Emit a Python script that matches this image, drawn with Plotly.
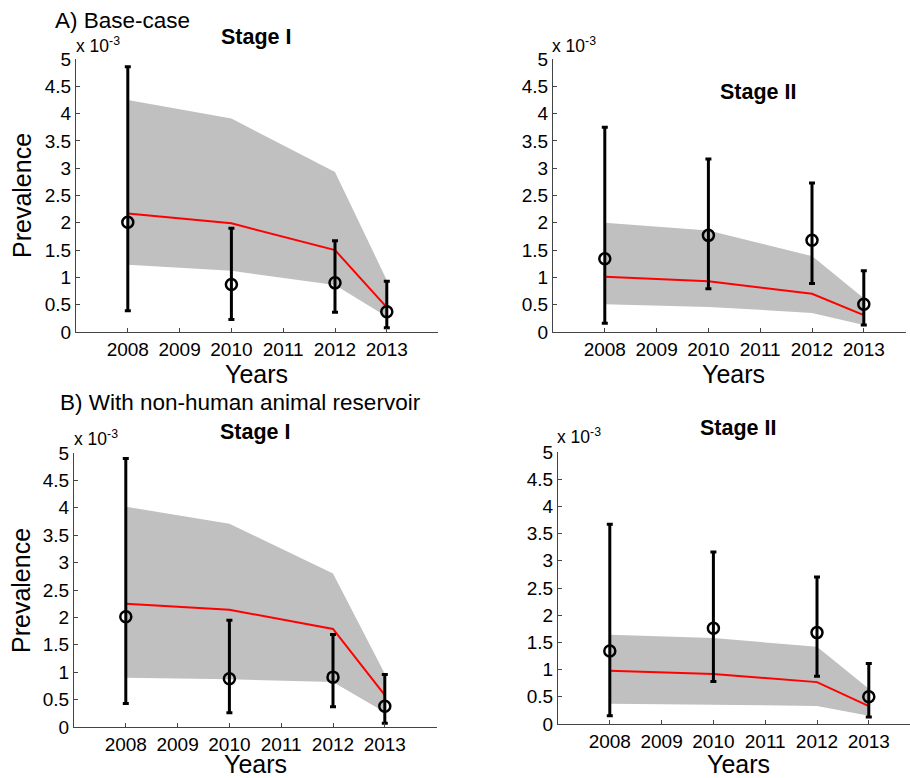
import plotly.graph_objects as go

# ---- data (prevalence in units of 1e-3) ----
years = [2008, 2010, 2012, 2013]
x_ticks = [2008, 2009, 2010, 2011, 2012, 2013]
x_ticktext = ["2008", "2009", "2010", "2011", "2012", "2013"]
y_ticks = [0, 0.5, 1, 1.5, 2, 2.5, 3, 3.5, 4, 4.5, 5]
y_ticktext = ["0", "0.5", "1", "1.5", "2", "2.5", "3", "3.5", "4", "4.5", "5"]

# A) Base-case, Stage I
a1_obs = [2.01, 0.87, 0.90, 0.37]
a1_obs_hi = [4.86, 1.90, 1.67, 0.93]
a1_obs_lo = [0.39, 0.23, 0.36, 0.08]
a1_model = [2.17, 1.99, 1.50, 0.45]
a1_band_hi = [4.25, 3.91, 2.93, 0.95]
a1_band_lo = [1.23, 1.12, 0.86, 0.28]

# A) Base-case, Stage II
a2_obs = [1.34, 1.77, 1.68, 0.51]
a2_obs_hi = [3.75, 3.17, 2.73, 1.12]
a2_obs_lo = [0.16, 0.79, 0.89, 0.13]
a2_model = [1.01, 0.93, 0.70, 0.31]
a2_band_hi = [2.00, 1.86, 1.39, 0.62]
a2_band_lo = [0.51, 0.46, 0.35, 0.13]

# B) With non-human animal reservoir, Stage I
b1_obs = [2.01, 0.88, 0.91, 0.38]
b1_obs_hi = [4.90, 1.95, 1.69, 0.96]
b1_obs_lo = [0.43, 0.26, 0.37, 0.07]
b1_model = [2.25, 2.14, 1.79, 0.58]
b1_band_hi = [4.02, 3.71, 2.80, 0.97]
b1_band_lo = [0.90, 0.87, 0.82, 0.27]

# B) With non-human animal reservoir, Stage II
b2_obs = [1.34, 1.76, 1.68, 0.50]
b2_obs_hi = [3.67, 3.16, 2.70, 1.11]
b2_obs_lo = [0.15, 0.78, 0.88, 0.13]
b2_model = [0.98, 0.92, 0.77, 0.33]
b2_band_hi = [1.64, 1.58, 1.42, 0.65]
b2_band_lo = [0.37, 0.355, 0.33, 0.15]

SCALE = 1e-3

W, H = 910, 778
FONT = "Arial, Liberation Sans, Helvetica, sans-serif"

panels = [
    dict(xl=76, xr=438, y0=332, y5=59,
         data=(a1_obs, a1_obs_hi, a1_obs_lo, a1_model, a1_band_hi, a1_band_lo)),
    dict(xl=553, xr=906, y0=332, y5=59,
         data=(a2_obs, a2_obs_hi, a2_obs_lo, a2_model, a2_band_hi, a2_band_lo)),
    dict(xl=74, xr=437, y0=727, y5=453,
         data=(b1_obs, b1_obs_hi, b1_obs_lo, b1_model, b1_band_hi, b1_band_lo)),
    dict(xl=558, xr=910, y0=724, y5=452,
         data=(b2_obs, b2_obs_hi, b2_obs_lo, b2_model, b2_band_hi, b2_band_lo)),
]
PX_PER_YEAR = 51.8

fig = go.Figure()
layout = dict(
    width=W, height=H,
    margin=dict(l=0, r=0, t=0, b=0, pad=0, autoexpand=False),
    paper_bgcolor="white", plot_bgcolor="white",
    showlegend=False,
    font=dict(family=FONT, color="black"),
)

for i, p in enumerate(panels):
    xa = "x" if i == 0 else f"x{i+1}"
    ya = "y" if i == 0 else f"y{i+1}"
    obs, hi, lo, model, bhi, blo = p["data"]
    bx = years + years[::-1]
    by = [v * SCALE for v in bhi] + [v * SCALE for v in blo[::-1]]
    fig.add_trace(go.Scatter(x=bx, y=by, fill="toself", fillcolor="#c0c0c0",
                             line=dict(width=0, color="#c0c0c0"), mode="lines",
                             hoverinfo="skip", xaxis=xa, yaxis=ya))
    fig.add_trace(go.Scatter(x=years, y=[v * SCALE for v in model], mode="lines",
                             line=dict(color="#ff0000", width=2),
                             xaxis=xa, yaxis=ya))
    fig.add_trace(go.Scatter(
        x=years, y=[v * SCALE for v in obs], mode="markers",
        marker=dict(symbol="circle-open", size=11, color="black",
                    line=dict(width=2.5, color="black")),
        error_y=dict(type="data", symmetric=False,
                     array=[(h - o) * SCALE for h, o in zip(hi, obs)],
                     arrayminus=[(o - l) * SCALE for o, l in zip(obs, lo)],
                     color="black", thickness=3, width=3),
        xaxis=xa, yaxis=ya))

    x_end = 2007 + (p["xr"] - p["xl"]) / PX_PER_YEAR
    xkey = "xaxis" if i == 0 else f"xaxis{i+1}"
    ykey = "yaxis" if i == 0 else f"yaxis{i+1}"
    layout[xkey] = dict(
        domain=[p["xl"] / W, p["xr"] / W], range=[2007, x_end],
        anchor=ya, tickmode="array", tickvals=x_ticks, ticktext=x_ticktext,
        ticks="inside", ticklen=4, tickcolor="#444", showline=True,
        linecolor="#444", linewidth=1, showgrid=False, zeroline=False,
        tickfont=dict(size=19, family=FONT, color="black"),
        ticklabelstandoff=0, automargin=False,
    )
    layout[ykey] = dict(
        domain=[1 - p["y0"] / H, 1 - p["y5"] / H], range=[0, 5 * SCALE],
        anchor=xa, tickmode="array", tickvals=[v * SCALE for v in y_ticks],
        ticktext=y_ticktext, ticks="inside", ticklen=4, tickcolor="#444",
        showline=True, linecolor="#444", linewidth=1, showgrid=False,
        zeroline=False, tickfont=dict(size=19, family=FONT, color="black"),
        automargin=False,
    )

ann = []
def px(x, y, text, size, bold=False, xanchor="center", angle=0):
    ann.append(dict(xref="paper", yref="paper", x=x / W, y=1 - y / H,
                    text=f"<b>{text}</b>" if bold else text, showarrow=False,
                    xanchor=xanchor, yanchor="middle", textangle=angle,
                    borderpad=0,
                    font=dict(size=size, family=FONT, color="black")))

px(54, 21, "A) Base-case", 22.5, xanchor="left")
px(59, 402, "B) With non-human animal reservoir", 22.5, xanchor="left")
px(256, 37, "Stage I", 21.5, bold=True)
px(758, 92, "Stage II", 21.5, bold=True)
px(255, 432, "Stage I", 21.5, bold=True)
px(738, 428, "Stage II", 21.5, bold=True)
for (x, y) in [(256, 374), (733, 374), (255, 764), (738, 764)]:
    px(x, y, "Years", 25)
for (x, y) in [(22, 196), (21, 591)]:
    px(x, y, "Prevalence", 25, angle=-90)
for (x, y) in [(75, 45), (551, 45), (73, 438), (556, 436)]:
    px(x, y, "x 10<sup>-3</sup>", 17.5, xanchor="left")

layout["annotations"] = ann
fig.update_layout(**layout)
fig.write_html("out.html", config={"displayModeBar": False},
               post_script="document.body.style.margin='0';document.body.style.overflow='hidden';")
